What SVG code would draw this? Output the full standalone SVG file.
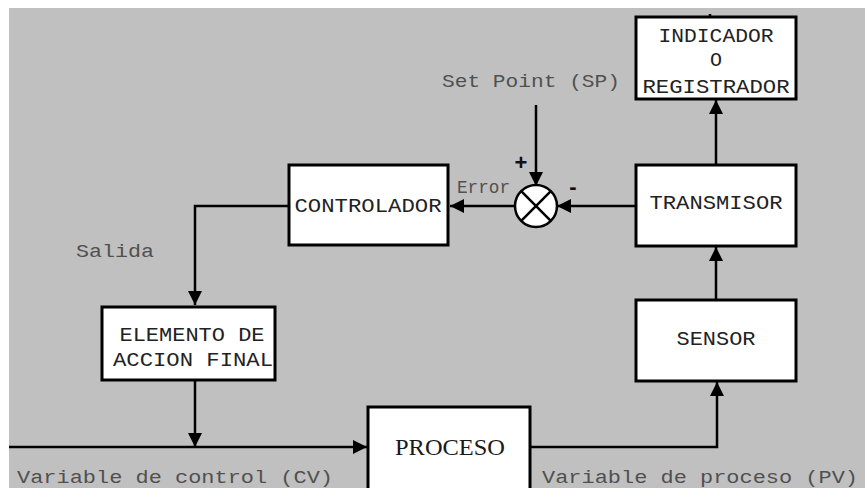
<svg xmlns="http://www.w3.org/2000/svg" width="865" height="488" viewBox="0 0 865 488">
<style>
.box{fill:#fff;stroke:#000;stroke-width:3}
.ln{fill:none;stroke:#000;stroke-width:2.5}
.bt{font-family:"Liberation Mono","DejaVu Sans Mono",monospace;font-size:20px;fill:#222;text-anchor:middle}
.lb{font-family:"Liberation Mono","DejaVu Sans Mono",monospace;font-size:18px;fill:#505050}
.sg{font-family:"Liberation Sans",Arial,sans-serif;font-size:22px;font-weight:bold;fill:#111;text-anchor:middle}
</style>
<defs>
<marker id="ah" markerUnits="userSpaceOnUse" markerWidth="14" markerHeight="14" viewBox="0 0 14 14" refX="14" refY="7" orient="auto">
<path d="M0,0 L14,7 L0,14 Z" fill="#000"/>
</marker>
</defs>
<rect x="0" y="0" width="865" height="488" fill="#fff"/>
<rect x="9" y="8" width="856" height="480" fill="#c0c0c0"/>

<g id="connectors">
<line class="ln" x1="710" y1="14" x2="710" y2="18"/>
<line class="ln" x1="536" y1="105" x2="536" y2="186" marker-end="url(#ah)"/>
<line class="ln" x1="635" y1="206" x2="557" y2="206" marker-end="url(#ah)"/>
<line class="ln" x1="515" y1="206" x2="450" y2="206" marker-end="url(#ah)"/>
<path class="ln" d="M288,206 H195 V305" marker-end="url(#ah)"/>
<line class="ln" x1="195" y1="380" x2="195" y2="447" marker-end="url(#ah)"/>
<line class="ln" x1="9" y1="447" x2="367" y2="447" marker-end="url(#ah)"/>
<path class="ln" d="M530,447 H717 V382" marker-end="url(#ah)"/>
<line class="ln" x1="716" y1="300" x2="716" y2="247" marker-end="url(#ah)"/>
<line class="ln" x1="716" y1="165" x2="716" y2="100" marker-end="url(#ah)"/>
</g>

<g id="indicador">
<rect class="box" x="636" y="17" width="160" height="82"/>
<text class="bt" x="716" y="42" textLength="115" lengthAdjust="spacingAndGlyphs">INDICADOR</text>
<text class="bt" x="716" y="66">O</text>
<text class="bt" x="716" y="93" textLength="147" lengthAdjust="spacingAndGlyphs">REGISTRADOR</text>
</g>

<g id="setpoint">
<text class="lb" x="442" y="87" textLength="178" lengthAdjust="spacingAndGlyphs">Set Point (SP)</text>
</g>

<g id="sumador">
<circle cx="536" cy="206" r="21" fill="#fff" stroke="#000" stroke-width="2.5"/>
<line class="ln" x1="521.2" y1="191.2" x2="550.8" y2="220.8"/>
<line class="ln" x1="550.8" y1="191.2" x2="521.2" y2="220.8"/>
<text class="sg" x="521" y="170">+</text>
<text class="sg" x="573" y="194">-</text>
<text class="lb" x="457" y="193" font-size="13" textLength="53" lengthAdjust="spacingAndGlyphs">Error</text>
</g>

<g id="controlador">
<rect class="box" x="289" y="165" width="159" height="80"/>
<text class="bt" x="368" y="212" textLength="147" lengthAdjust="spacingAndGlyphs">CONTROLADOR</text>
</g>

<g id="transmisor">
<rect class="box" x="636" y="165" width="160" height="81"/>
<text class="bt" x="716" y="209" textLength="133" lengthAdjust="spacingAndGlyphs">TRANSMISOR</text>
</g>

<g id="sensor">
<rect class="box" x="636" y="300" width="160" height="81"/>
<text class="bt" x="716" y="345" textLength="79" lengthAdjust="spacingAndGlyphs">SENSOR</text>
</g>

<g id="elemento">
<rect class="box" x="102" y="307" width="173" height="73"/>
<text class="bt" x="192" y="341" textLength="145" lengthAdjust="spacingAndGlyphs">ELEMENTO DE</text>
<text class="bt" x="193" y="366" textLength="160" lengthAdjust="spacingAndGlyphs">ACCION FINAL</text>
</g>

<g id="proceso">
<rect class="box" x="368" y="407" width="162" height="90"/>
<text x="450" y="455" font-family="'Liberation Serif','Times New Roman',serif" font-size="23" fill="#1a1a1a" text-anchor="middle" textLength="110" lengthAdjust="spacingAndGlyphs">PROCESO</text>
</g>

<g id="labels">
<text class="lb" x="76" y="257" textLength="78" lengthAdjust="spacingAndGlyphs">Salida</text>
<text class="lb" x="17" y="483" textLength="316" lengthAdjust="spacingAndGlyphs">Variable de control (CV)</text>
<text class="lb" x="542" y="483" textLength="316" lengthAdjust="spacingAndGlyphs">Variable de proceso (PV)</text>
</g>
</svg>
